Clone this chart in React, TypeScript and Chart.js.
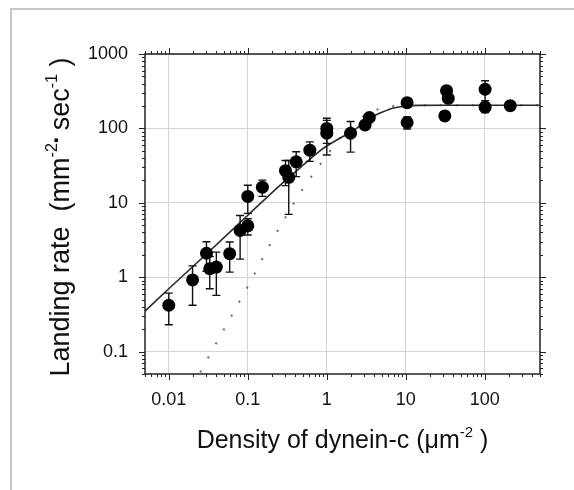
import React, { useEffect, useRef } from "react";
import { Chart, registerables } from "chart.js";

Chart.register(...registerables);

// ---- data ----
const densities = [0.01, 0.02, 0.03, 0.033, 0.04, 0.059, 0.08, 0.1, 0.1, 0.153, 0.3, 0.33, 0.41, 0.61, 1.0, 1.0, 2.0, 3.05, 3.46, 10.4, 10.4, 31.2, 32.8, 34.5, 101, 101, 210];
const landingRates = [0.42, 0.92, 2.1, 1.3, 1.37, 2.07, 4.25, 4.9, 12.2, 16.2, 27, 22, 35.5, 51, 100, 86, 86, 111, 140, 222, 120, 147, 321, 254, 336, 193, 202];
const errorBars = [0.19, 0.5, 0.9, 0.6, 0.8, 0.9, 2.5, 1.2, 5, 4, 10, 15, 13, 15, 37, 42, 38, 10, 10, 20, 22, 10, 30, 20, 100, 30, 25];

const fitX = [0.005, 0.01, 0.03, 0.1, 0.3, 0.5, 0.84, 1, 1.5, 2, 3, 4, 5, 7, 10, 15, 30, 500];
const fitY = [0.35, 0.7, 2.05, 6.8, 20, 32, 51, 58, 75, 88, 120, 148, 165, 188, 200, 204, 205, 205];

const twoMotorX = [0.02, 0.03, 0.05, 0.1, 0.2, 0.3, 0.5, 0.74, 1, 1.34, 2, 2.4, 3, 4.4, 6, 8, 12, 20, 50, 500];
const twoMotorY = [0.034, 0.075, 0.2, 0.75, 3.0, 6.4, 15.5, 28, 43, 66, 104, 125, 148, 180, 195, 201, 204, 205, 205, 205];

const xTickValues = [0.01, 0.1, 1, 10, 100];
const xTickLabels = ["0.01", "0.1", "1", "10", "100"];
const yTickValues = [0.1, 1, 10, 100, 1000];
const yTickLabels = ["0.1", "1", "10", "100", "1000"];

const X_MIN = 0.005;
const X_MAX = 500;
const Y_MIN = 0.05;
const Y_MAX = 1000;

const FONT = "'Liberation Sans', Arial, Helvetica, sans-serif";

type Run = { t: string; sup?: boolean; scale?: number; rise?: number };

const xTitleRuns: Run[] = [
  { t: "Density of dynein-c (" },
  { t: "\u03bcm" },
  { t: "-2", sup: true },
  { t: " )" },
];
const yTitleRuns: Run[] = [
  { t: "Landing rate  (mm" },
  { t: "-2", sup: true },
  { t: "\u25aa", scale: 0.55, rise: 0.28 },
  { t: " sec" },
  { t: "-1", sup: true },
  { t: " )" },
];

function drawRuns(ctx: CanvasRenderingContext2D, runs: Run[], size: number) {
  const pieces = runs.map((r) => {
    const s = r.sup ? size * 0.6 : size * (r.scale || 1);
    const rise = r.sup ? size * 0.45 : size * (r.rise || 0);
    ctx.font = `${s}px ${FONT}`;
    return { t: r.t, s, rise, w: ctx.measureText(r.t).width };
  });
  const total = pieces.reduce((a, p) => a + p.w, 0);
  let x = -total / 2;
  ctx.textBaseline = "alphabetic";
  ctx.textAlign = "left";
  for (const p of pieces) {
    ctx.font = `${p.s}px ${FONT}`;
    ctx.fillText(p.t, x, -p.rise);
    x += p.w;
  }
}

function logTicks(min: number, max: number) {
  const out: { v: number; major: boolean }[] = [];
  for (let e = Math.floor(Math.log10(min)); e <= Math.ceil(Math.log10(max)); e++) {
    for (let m = 1; m <= 9; m++) {
      const v = m * Math.pow(10, e);
      if (v >= min * 0.9999 && v <= max * 1.0001) out.push({ v, major: m === 1 });
    }
  }
  return out;
}

const figurePlugin = {
  id: "figurePlugin",
  beforeDraw(chart: any) {
    const ctx = chart.ctx as CanvasRenderingContext2D;
    ctx.save();
    ctx.fillStyle = "#c6c6c6";
    ctx.fillRect(10, 8, 2, 490);
    ctx.fillRect(10, 8, 580, 2);
    ctx.restore();
  },
  beforeDatasetDraw(chart: any, args: any) {
    if (args.index !== 0) return;
    const ctx = chart.ctx as CanvasRenderingContext2D;
    const xs = chart.scales.x;
    const ys = chart.scales.y;
    ctx.save();
    ctx.strokeStyle = "#111";
    ctx.lineWidth = 1.4;
    for (let i = 0; i < densities.length; i++) {
      const px = xs.getPixelForValue(densities[i]);
      const top = ys.getPixelForValue(landingRates[i] + errorBars[i]);
      const low = Math.max(landingRates[i] - errorBars[i], Y_MIN * 0.5);
      const bot = ys.getPixelForValue(low);
      ctx.beginPath();
      ctx.moveTo(px, top);
      ctx.lineTo(px, bot);
      ctx.moveTo(px - 4, top);
      ctx.lineTo(px + 4, top);
      ctx.moveTo(px - 4, bot);
      ctx.lineTo(px + 4, bot);
      ctx.stroke();
    }
    ctx.restore();
  },
  afterDraw(chart: any) {
    const ctx = chart.ctx as CanvasRenderingContext2D;
    const a = chart.chartArea;
    const xs = chart.scales.x;
    const ys = chart.scales.y;
    ctx.save();
    ctx.strokeStyle = "#222";
    ctx.lineWidth = 1.5;
    ctx.strokeRect(a.left, a.top, a.right - a.left, a.bottom - a.top);
    ctx.lineWidth = 1;
    ctx.beginPath();
    for (const t of logTicks(X_MIN, X_MAX)) {
      const px = Math.round(xs.getPixelForValue(t.v)) + 0.5;
      const len = t.major ? 6 : 3;
      ctx.moveTo(px, a.bottom);
      ctx.lineTo(px, a.bottom + len);
      ctx.moveTo(px, a.top);
      ctx.lineTo(px, a.top - len);
    }
    for (const t of logTicks(Y_MIN, Y_MAX)) {
      const py = Math.round(ys.getPixelForValue(t.v)) + 0.5;
      const len = t.major ? 6 : 3;
      ctx.moveTo(a.left, py);
      ctx.lineTo(a.left - len, py);
      ctx.moveTo(a.right, py);
      ctx.lineTo(a.right + len, py);
    }
    ctx.stroke();

    ctx.fillStyle = "#111";
    // x-axis title
    ctx.save();
    ctx.translate((a.left + a.right) / 2, 448);
    drawRuns(ctx, xTitleRuns, 25);
    ctx.restore();
    // y-axis title
    ctx.save();
    ctx.translate(69, (a.top + a.bottom) / 2 + 3);
    ctx.rotate(-Math.PI / 2);
    drawRuns(ctx, yTitleRuns, 27);
    ctx.restore();
    ctx.restore();
  },
};

export default function App() {
  const ref = useRef<HTMLCanvasElement | null>(null);

  useEffect(() => {
    if (!ref.current) return;
    const chart = new Chart(ref.current, {
      type: "scatter",
      data: {
        datasets: [
          {
            label: "Landing rate",
            data: densities.map((x, i) => ({ x, y: landingRates[i] })),
            pointRadius: 6.5,
            pointHoverRadius: 6.5,
            backgroundColor: "#000",
            borderColor: "#000",
            borderWidth: 0,
            showLine: false,
          },
          {
            label: "Single-motor fit",
            data: fitX.map((x, i) => ({ x, y: fitY[i] })),
            showLine: true,
            pointRadius: 0,
            borderColor: "#2a2a2a",
            borderWidth: 1.6,
            cubicInterpolationMode: "monotone",
          },
          {
            label: "Two-motor fit",
            data: twoMotorX.map((x, i) => ({ x, y: twoMotorY[i] })),
            showLine: true,
            pointRadius: 0,
            borderColor: "#6a6a6a",
            borderWidth: 2,
            borderDash: [2, 14],
            cubicInterpolationMode: "monotone",
          },
        ],
      },
      options: {
        animation: false,
        responsive: false,
        maintainAspectRatio: false,
        devicePixelRatio: 1,
        layout: { padding: { top: 54, right: 34, left: 0, bottom: 0 } },
        plugins: { legend: { display: false }, tooltip: { enabled: false } },
        scales: {
          x: {
            type: "logarithmic",
            min: X_MIN,
            max: X_MAX,
            position: "bottom",
            afterBuildTicks: (s: any) => {
              s.ticks = xTickValues.map((v) => ({ value: v }));
            },
            afterFit: (s: any) => {
              s.height = 116;
            },
            grid: { color: "#d4d4d4", lineWidth: 1, drawTicks: false },
            border: { display: false },
            ticks: {
              autoSkip: false,
              maxRotation: 0,
              padding: 15,
              color: "#111",
              font: { size: 18, family: FONT },
              callback: (_v: any, i: number) => xTickLabels[i],
            },
          },
          y: {
            type: "logarithmic",
            min: Y_MIN,
            max: Y_MAX,
            position: "left",
            afterBuildTicks: (s: any) => {
              s.ticks = yTickValues.map((v) => ({ value: v }));
            },
            afterFit: (s: any) => {
              s.width = 145;
            },
            grid: { color: "#d4d4d4", lineWidth: 1, drawTicks: false },
            border: { display: false },
            ticks: {
              autoSkip: false,
              padding: 17,
              color: "#111",
              font: { size: 18, family: FONT },
              callback: (_v: any, i: number) => yTickLabels[i],
            },
          },
        },
      },
      plugins: [figurePlugin],
    } as any);
    return () => chart.destroy();
  }, []);

  return (
    <div style={{ position: "absolute", left: 0, top: 0, width: 574, height: 490, background: "#fff" }}>
      <canvas ref={ref} width={574} height={490} style={{ display: "block", width: 574, height: 490 }} />
    </div>
  );
}
